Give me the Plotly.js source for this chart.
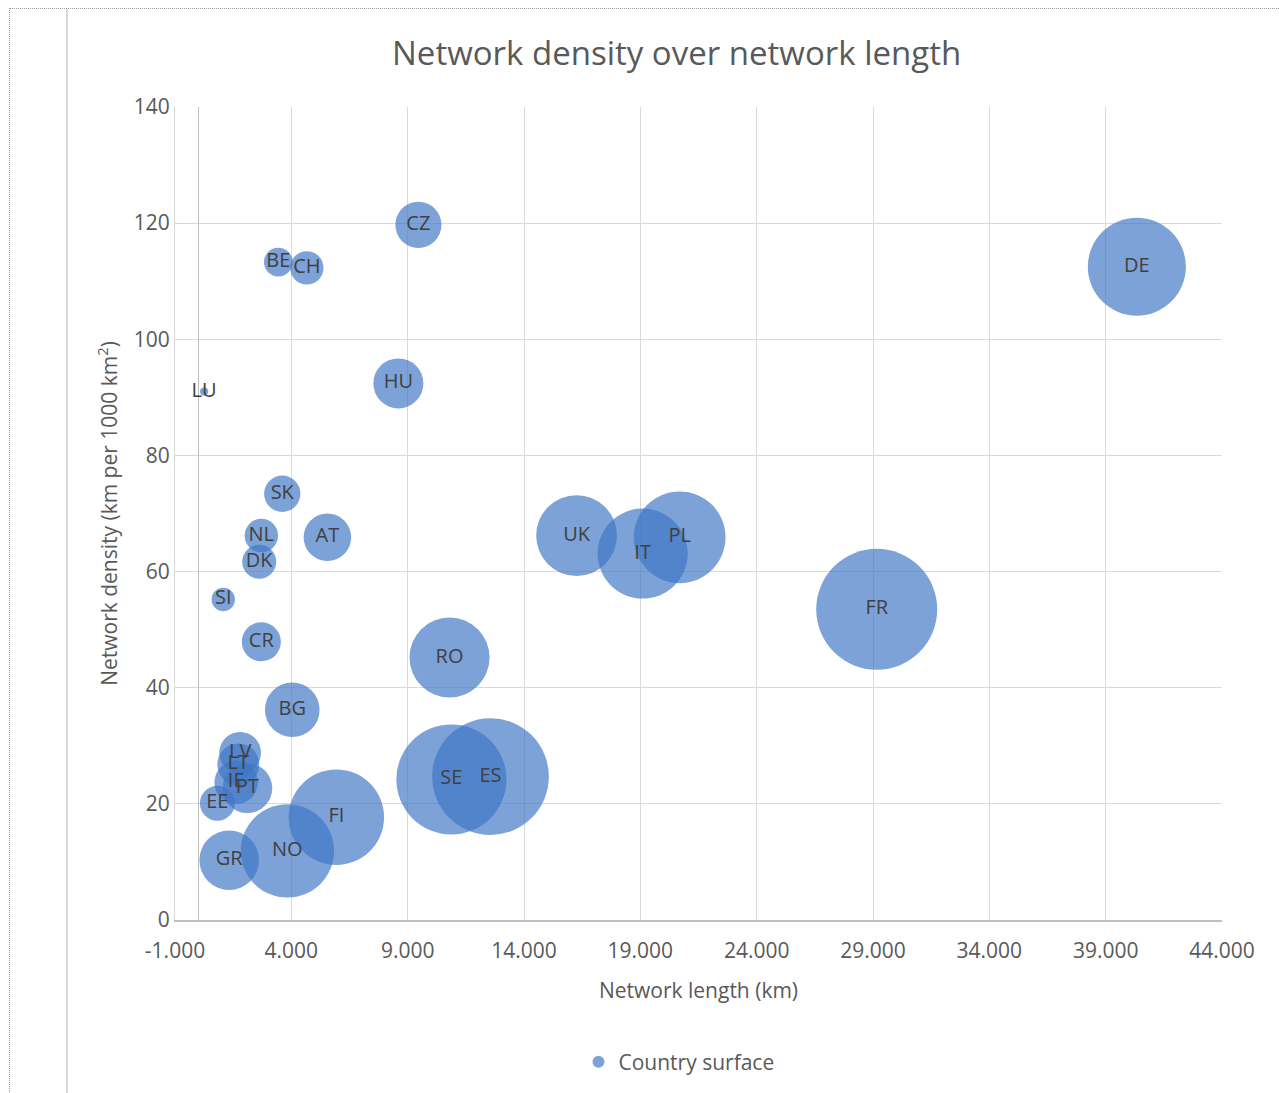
<!DOCTYPE html>
<html>
<head>
<meta charset="utf-8">
<script src="https://cdn.plot.ly/plotly-3.0.1.min.js"></script>
<style>
  html, body { margin: 0; padding: 0; background: #ffffff; }
  #wrap { position: relative; width: 1279px; height: 1093px; overflow: hidden; }
  #chart { position: absolute; left: 0; top: 0; width: 1279px; height: 1093px; }
  .deco { position: absolute; pointer-events: none; }
</style>
</head>
<body>
<div id="wrap">
  <div id="chart"></div>
  <div class="deco" style="left:9px; top:8px; width:1270px; height:0; border-top:1px dotted #9a9a9a;"></div>
  <div class="deco" style="left:9px; top:8px; width:0; height:1085px; border-left:1px dotted #9a9a9a;"></div>
  <div class="deco" style="left:66px; top:9px; width:2px; height:1084px; background:#d9d9d9;"></div>
</div>
<script>
// Countries (labels)
const countries = ['LU','BE','CH','CZ','HU','SK','NL','AT','DK','SI','CR','BG','RO','UK','IT','PL','FR','DE','SE','ES','FI','NO','GR','EE','PT','IE','LT','LV'];
// Network length (km)
const networkLength = [250, 3440, 4667, 9460, 8600, 3610, 2710, 5550, 2620, 1075, 2710, 4040, 10800, 16260, 19100, 20690, 29160, 40340, 10880, 12560, 5935, 3830, 1330, 820, 2110, 1630, 1720, 1800];
// Network density (km per 1000 km²)
const networkDensity = [91.0, 113.3, 112.3, 119.7, 92.4, 73.4, 66.2, 65.9, 61.7, 55.2, 47.9, 36.2, 45.2, 66.2, 63.1, 65.9, 53.5, 112.5, 24.2, 24.7, 17.7, 11.9, 10.3, 20.1, 22.7, 23.7, 26.8, 28.8];
// Country surface (km²) -> bubble size
const countrySurface = [2586, 30528, 41285, 78866, 93030, 49035, 41543, 83879, 43094, 20273, 56594, 110994, 238397, 242495, 301340, 312696, 543965, 357022, 450295, 505990, 338424, 323802, 131957, 45227, 92212, 70273, 65300, 64589];

// Axis ticks
const xTickVals = [-1000, 4000, 9000, 14000, 19000, 24000, 29000, 34000, 39000, 44000];
const xTickText = ['-1.000', '4.000', '9.000', '14.000', '19.000', '24.000', '29.000', '34.000', '39.000', '44.000'];
const yTickVals = [0, 20, 40, 60, 80, 100, 120, 140];
const yTickText = ['0', '20', '40', '60', '80', '100', '120', '140'];

const FONT = '"Open Sans", "Liberation Sans", sans-serif';
const maxDiameter = 121;
const maxSurface = Math.max(...countrySurface);

const trace = {
  type: 'scatter',
  mode: 'markers+text',
  name: 'Country surface',
  x: networkLength,
  y: networkDensity,
  text: countries,
  textposition: 'middle center',
  textfont: { family: FONT, size: 20, color: '#404040' },
  marker: {
    size: countrySurface,
    sizemode: 'area',
    sizeref: 2 * maxSurface / (maxDiameter * maxDiameter),
    color: 'rgba(62,118,198,0.68)',
    opacity: 1,
    line: { width: 0 }
  },
  cliponaxis: false,
  hoverinfo: 'x+y+text'
};

const layout = {
  width: 1279,
  height: 1093,
  paper_bgcolor: '#ffffff',
  plot_bgcolor: '#ffffff',
  margin: { l: 175, r: 57, t: 107, b: 172 },
  font: { family: FONT, color: '#595959' },
  title: {
    text: 'Network density over network length',
    font: { family: FONT, size: 33, color: '#595959' },
    xref: 'container', x: 0.529, xanchor: 'center',
    yref: 'container', y: 1 - 53 / 1093, yanchor: 'middle'
  },
  xaxis: {
    range: [-1000, 44000],
    tickvals: xTickVals,
    ticktext: xTickText,
    tickfont: { family: FONT, size: 21, color: '#595959' },
    ticklabelstandoff: 11,
    showgrid: true,
    gridcolor: '#d9d9d9',
    gridwidth: 1,
    zeroline: true,
    zerolinecolor: '#bfbfbf',
    zerolinewidth: 1.5,
    showline: true,
    linecolor: '#bfbfbf',
    linewidth: 1.5,
    ticks: '',
    title: { text: 'Network length (km)', font: { family: FONT, size: 21, color: '#595959' }, standoff: 20 },
    fixedrange: true
  },
  yaxis: {
    range: [0, 140],
    tickvals: yTickVals,
    ticktext: yTickText,
    tickfont: { family: FONT, size: 21, color: '#595959' },
    showgrid: true,
    gridcolor: '#d9d9d9',
    gridwidth: 1,
    zeroline: false,
    showline: true,
    linecolor: '#d9d9d9',
    linewidth: 1,
    ticks: '',
    title: { text: 'Network density (km per 1000 km<sup>2</sup>)', font: { family: FONT, size: 21, color: '#595959' }, standoff: 10 },
    fixedrange: true
  },
  showlegend: true,
  legend: {
    orientation: 'h',
    x: (679 - 175) / 1047, xanchor: 'center',
    y: (921 - 1062) / 814, yanchor: 'middle',
    font: { family: FONT, size: 21, color: '#595959' },
    itemsizing: 'constant',
    bgcolor: 'rgba(0,0,0,0)'
  }
};

Plotly.newPlot('chart', [trace], layout, { displayModeBar: false, staticPlot: true });
</script>
</body>
</html>
